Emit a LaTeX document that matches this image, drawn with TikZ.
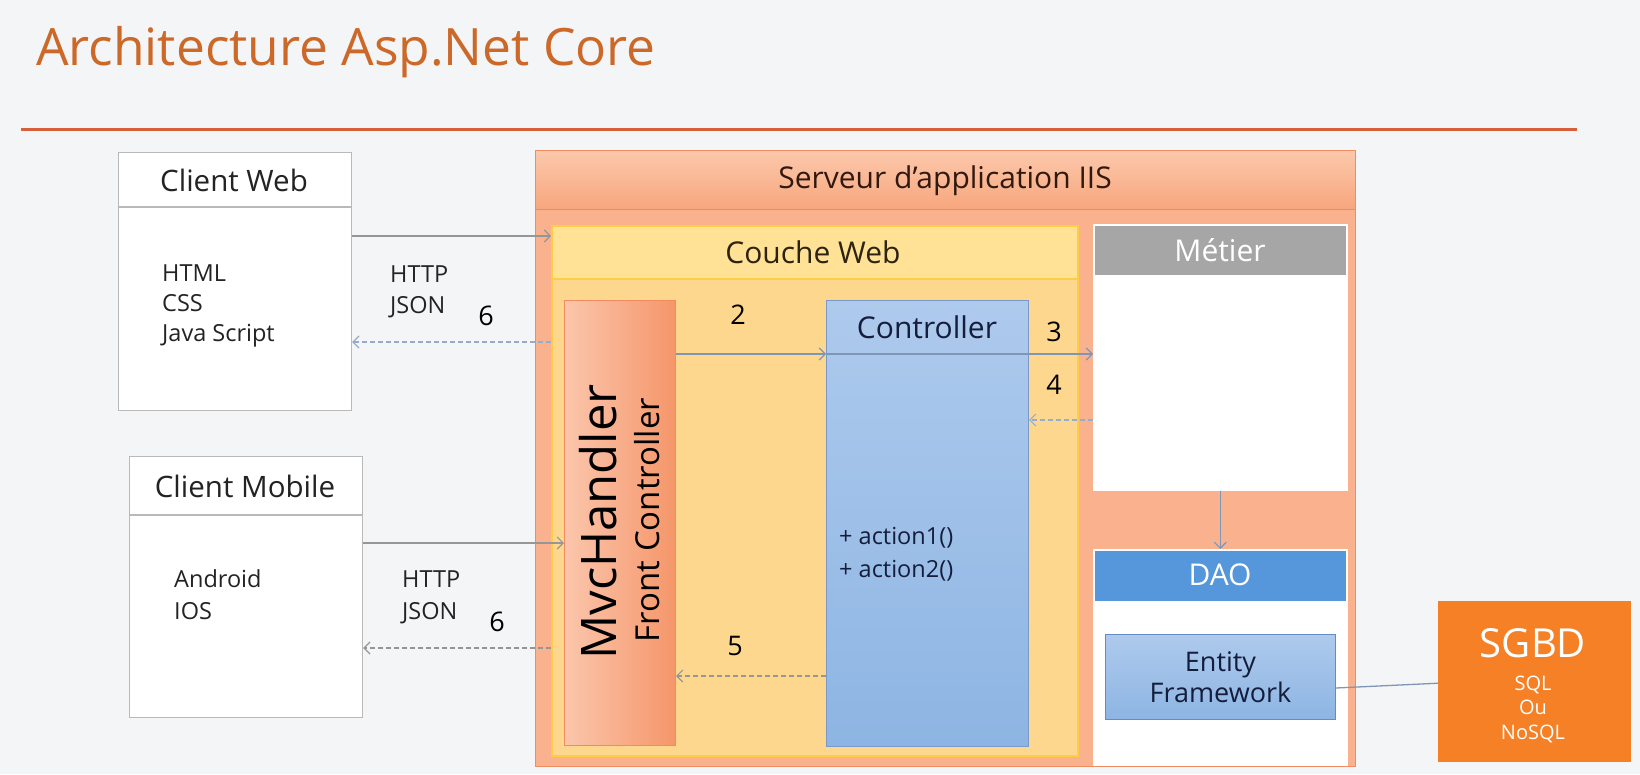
\documentclass[tikz,border=0pt]{standalone}
\usepackage{fontspec}
\setmainfont{Open Sans}
\usetikzlibrary{arrows.meta}
\definecolor{bg}{RGB}{244,245,247}
\definecolor{titlec}{RGB}{204,104,40}
\definecolor{rulec}{RGB}{214,96,60}
\definecolor{srvbody}{RGB}{250,178,142}
\definecolor{srvtop}{RGB}{252,200,172}
\definecolor{srvbot}{RGB}{247,166,124}
\definecolor{srvborder}{RGB}{240,140,96}
\definecolor{cwborder}{RGB}{255,204,70}
\definecolor{cwhead}{RGB}{255,226,150}
\definecolor{cwbody}{RGB}{254,215,142}
\definecolor{mvcl}{RGB}{251,198,172}
\definecolor{mvcr}{RGB}{245,150,106}
\definecolor{ctrtop}{RGB}{174,202,237}
\definecolor{ctrbot}{RGB}{141,181,227}
\definecolor{ctrborder}{RGB}{122,152,200}
\definecolor{efborder}{RGB}{100,140,195}
\definecolor{metierhead}{RGB}{166,166,166}
\definecolor{daohead}{RGB}{86,150,218}
\definecolor{sgbdc}{RGB}{245,128,37}
\definecolor{clientborder}{RGB}{185,185,185}
\definecolor{txt}{RGB}{35,35,35}
\definecolor{navy}{RGB}{20,30,60}
\definecolor{srvtxt}{RGB}{50,25,15}
\definecolor{cwtxt}{RGB}{45,35,15}
\definecolor{conngray}{RGB}{150,150,150}
\definecolor{connblue}{RGB}{128,150,182}
\definecolor{dashblue}{RGB}{150,172,204}
\tikzset{
  fs/.style={font=\fontsize{#1}{#1}\selectfont},
  rbox/.style={draw, rectangle, inner sep=0pt, anchor=north west},
  clientbox/.style={rbox, fill=white, draw=clientborder, line width=1.2pt},
  lbl/.style={inner sep=0pt, text=txt},
  num/.style={lbl, fs=27, text=black},
  tipb/.tip={Straight Barb[length=6pt,width=12pt,line width=1.2pt]},
  conn/.style={line width=1.3pt, -tipb},
  solidgray/.style={conn, draw=conngray},
  solidblue/.style={conn, draw=connblue},
  dashedblue/.style={conn, draw=dashblue, dash pattern=on 5pt off 3pt},
}
\begin{document}
\begin{tikzpicture}[x=1pt,y=-1pt]
\fill[bg] (0,0) rectangle (1640,774);
\useasboundingbox (0,0) rectangle (1640,774);

% title
\node[lbl, anchor=base west, text=titlec, fs=51.5] (title) at (36,65) {Architecture Asp.Net Core};
\coordinate (r1) at (21,129);
\coordinate (r2) at (1577,129);
\draw[rulec, line width=3pt] (r1) -- (r2);

% clients
\node[clientbox, minimum width=233pt, minimum height=258pt] (cw) at (118,152) {};
\draw[clientborder, line width=1.2pt] (cw.west |- 0,207) -- (cw.east |- 0,207);
\node[lbl, fs=29.5] (cwt) at (234,180) {Client Web};
\node[lbl, fs=23.5, anchor=base west] (cw1) at (162,281) {HTML};
\node[lbl, fs=23.5, anchor=base west] (cw2) at (162,311) {CSS};
\node[lbl, fs=23.5, anchor=base west] (cw3) at (162,341) {Java Script};

\node[clientbox, minimum width=233pt, minimum height=261pt] (cm) at (129,456) {};
\draw[clientborder, line width=1.2pt] (cm.west |- 0,515) -- (cm.east |- 0,515);
\node[lbl, fs=29.5] (cmt) at (245,486) {Client Mobile};
\node[lbl, fs=23.5, anchor=base west] (cm1) at (174,587) {Android};
\node[lbl, fs=23.5, anchor=base west] (cm2) at (174,619) {IOS};

\node[lbl, fs=23.5, anchor=base west] (h1) at (390,282) {HTTP};
\node[lbl, fs=23.5, anchor=base west] (j1) at (390,313) {JSON};
\node[num] (six1) at (486,316) {6};
\node[lbl, fs=23.5, anchor=base west] (h2) at (402,587) {HTTP};
\node[lbl, fs=23.5, anchor=base west] (j2) at (402,619) {JSON};
\node[num] (six2) at (497,622) {6};

% server
\node[rbox, fill=srvbody, draw=srvborder, line width=1.2pt, minimum width=820pt, minimum height=616pt] (srv) at (535,150) {};
\node[rbox, top color=srvtop, bottom color=srvbot, draw=srvborder, line width=1.2pt, minimum width=820pt, minimum height=59pt] (srvh) at (535,150) {};
\node[lbl, fs=30, text=srvtxt] (srvt) at (945,181) {Serveur d’application IIS};

% couche web
\node[rbox, fill=cwbody, draw=cwborder, line width=1.5pt, minimum width=526pt, minimum height=530pt] (couche) at (551,225) {};
\node[rbox, fill=cwhead, draw=cwborder, line width=1.5pt, minimum width=526pt, minimum height=53pt] (coucheh) at (551,225) {};
\node[lbl, fs=30, text=cwtxt] (couchet) at (813,252) {Couche Web};

% MvcHandler
\node[rbox, left color=mvcl, right color=mvcr, draw=srvborder, line width=1pt, minimum width=111pt, minimum height=445pt] (mvc) at (564,300) {};
\node[lbl, fs=49, rotate=90, text=black] (mvct) at (598,522) {MvcHandler};
\node[lbl, fs=33, rotate=90, text=black] (fct) at (647,520) {Front Controller};

% Controller
\node[rbox, top color=ctrtop, bottom color=ctrbot, draw=ctrborder, line width=1pt, minimum width=202pt, minimum height=446pt] (ctrl) at (826,300) {};
\draw[connblue, line width=1.2pt] (ctrl.west |- 0,354) -- (ctrl.east |- 0,354);
\node[lbl, fs=30, text=navy] (ctrlt) at (927,327) {Controller};
\node[lbl, fs=23.5, text=navy, anchor=base west] (a1) at (839,544) {+ action1()};
\node[lbl, fs=23.5, text=navy, anchor=base west] (a2) at (839,577) {+ action2()};

% Metier
\node[rbox, fill=white, draw=white, line width=1.5pt, minimum width=253pt, minimum height=265pt] (metier) at (1093,224) {};
\node[rbox, fill=metierhead, draw=white, line width=1.5pt, minimum width=253pt, minimum height=51pt] (metierh) at (1093,224) {};
\node[lbl, fs=30, text=white] (metiert) at (1220,250) {Métier};

% DAO
\node[rbox, fill=white, draw=white, line width=1.5pt, minimum width=253pt, minimum height=215pt] (dao) at (1093,549) {};
\node[rbox, fill=daohead, draw=white, line width=1.5pt, minimum width=253pt, minimum height=52pt] (daoh) at (1093,549) {};
\node[lbl, fs=30, text=white] (daot) at (1220,575) {DAO};
\node[rbox, top color=ctrtop, bottom color=ctrbot, draw=efborder, line width=1pt, minimum width=230pt, minimum height=85pt] (ef) at (1105,634) {};
\node[lbl, align=center, font=\fontsize{27}{31}\selectfont, text=navy] (eft) at (ef.center) {Entity\\Framework};

% SGBD
\node[rbox, fill=sgbdc, draw=sgbdc, minimum width=192pt, minimum height=160pt] (sgbd) at (1438,601) {};
\node[lbl, fs=40, text=white] (sgbdt) at (1533,643) {SGBD};
\node[lbl, align=center, font=\fontsize{20}{24.5}\selectfont, text=white] (sgbds) at (1533,709) {SQL\\Ou\\NoSQL};

% numbers
\node[num] (n2) at (738,315) {2};
\node[num] (n3) at (1054,332) {3};
\node[num] (n4) at (1054,385) {4};
\node[num] (n5) at (735,646) {5};

% connectors
\draw[solidgray] (cw.east |- 0,236) -- (couche.west |- 0,236);
\draw[dashedblue] (couche.west |- 0,342) -- (cw.east |- 0,342);
\draw[solidgray] (cm.east |- 0,543) -- (mvc.west |- 0,543);
\draw[dashedblue, draw=conngray] (couche.west |- 0,648) -- (cm.east |- 0,648);
\draw[solidblue] (mvc.east |- 0,354) -- (ctrl.west |- 0,354);
\draw[solidblue] (ctrl.east |- 0,354) -- (metier.west |- 0,354);
\draw[dashedblue] (metier.west |- 0,420) -- (ctrl.east |- 0,420);
\draw[dashedblue, draw=conngray] (ctrl.west |- 0,676) -- (mvc.east |- 0,676);
\draw[solidblue] (metier.south) -- (dao.north);
\draw[connblue, line width=1.3pt] ([yshift=-11pt]ef.east) -- ([yshift=-2pt]sgbd.west);
\end{tikzpicture}
\end{document}
